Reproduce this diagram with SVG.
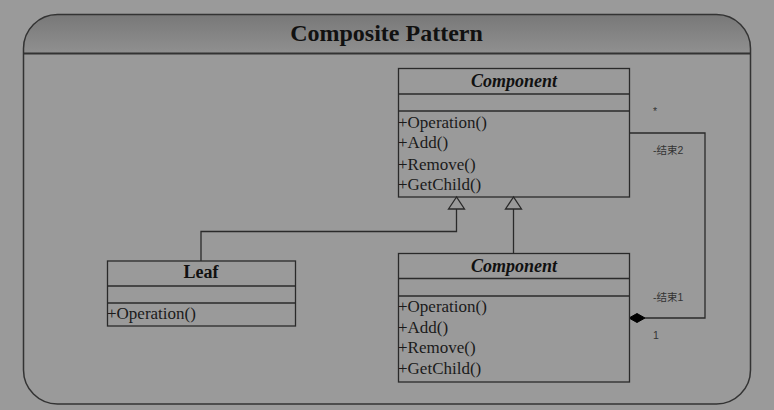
<svg xmlns="http://www.w3.org/2000/svg" width="774" height="410" viewBox="0 0 774 410">
<defs>
<linearGradient id="band" x1="0" y1="0" x2="0" y2="1">
<stop offset="0" stop-color="#787878"/>
<stop offset="1" stop-color="#909090"/>
</linearGradient>
<style>
.ln{fill:none;stroke:#333;stroke-width:1.5}
.box{fill:none;stroke:#2a2a2a;stroke-width:1.3}
.nm{font-family:"Liberation Serif",serif;font-weight:bold;font-size:18px;fill:#111;text-anchor:middle}
.it{font-style:italic}
.op{font-family:"Liberation Serif",serif;font-size:17px;fill:#1a1a1a}
.sm{font-family:"Liberation Sans","Noto Sans CJK SC",sans-serif;font-size:10.5px;fill:#333}
</style>
</defs>
<rect width="774" height="410" fill="#9a9a9a"/>
<g id="frame">
<path d="M23.5,53.5 V48.5 A34,34 0 0 1 57.5,14.5 H716.5 A34,34 0 0 1 750.5,48.5 V53.5 Z" fill="url(#band)"/>
<path d="M23.5,53.5 V48.5 A34,34 0 0 1 57.5,14.5 H716.5 A34,34 0 0 1 750.5,48.5 V370 A34,34 0 0 1 716.5,404 H57.5 A34,34 0 0 1 23.5,370 Z" class="ln"/>
<line x1="23.5" y1="53.5" x2="750.5" y2="53.5" stroke="#333" stroke-width="2"/>
<text x="386.5" y="41" font-family="'Liberation Serif',serif" font-weight="bold" font-size="24" fill="#111" text-anchor="middle">Composite Pattern</text>
</g>
<g id="connectors">
<polyline class="box" points="201,261 201,231.5 456.5,231.5 456.5,209"/>
<polygon points="456.5,197 448.5,209 464.5,209" class="box"/>
<line class="box" x1="513.5" y1="253" x2="513.5" y2="209"/>
<polygon points="513.5,197 505.5,209 521.5,209" class="box"/>
<polyline class="box" points="629,133 705,133 705,318 645,318"/>
<polygon points="629,318 637,313.5 645,318 637,322.5" fill="#000" stroke="#000" stroke-width="1"/>
<text class="sm" x="653" y="115">*</text>
<text class="sm" x="653" y="154">-结束2</text>
<text class="sm" x="653" y="301">-结束1</text>
<text class="sm" x="653" y="339">1</text>
</g>
<g id="component-top">
<rect class="box" x="398.5" y="68.5" width="231" height="128.5"/>
<line class="box" x1="398.5" y1="94" x2="629.5" y2="94"/>
<line class="box" x1="398.5" y1="111" x2="629.5" y2="111"/>
<text class="nm it" x="514" y="87">Component</text>
<text class="op" x="398" y="128">+Operation()</text>
<text class="op" x="398" y="148">+Add()</text>
<text class="op" x="398" y="169.5">+Remove()</text>
<text class="op" x="398" y="190">+GetChild()</text>
</g>
<g id="leaf">
<rect class="box" x="107.5" y="261" width="188" height="65"/>
<line class="box" x1="107.5" y1="286" x2="295.5" y2="286"/>
<line class="box" x1="107.5" y1="303" x2="295.5" y2="303"/>
<text class="nm" x="201" y="278">Leaf</text>
<text class="op" x="107" y="319">+Operation()</text>
</g>
<g id="component-bottom">
<rect class="box" x="398.5" y="253.5" width="231" height="128.5"/>
<line class="box" x1="398.5" y1="278.5" x2="629.5" y2="278.5"/>
<line class="box" x1="398.5" y1="296" x2="629.5" y2="296"/>
<text class="nm it" x="514" y="272">Component</text>
<text class="op" x="398" y="312">+Operation()</text>
<text class="op" x="398" y="332.5">+Add()</text>
<text class="op" x="398" y="353">+Remove()</text>
<text class="op" x="398" y="373.5">+GetChild()</text>
</g>
</svg>
